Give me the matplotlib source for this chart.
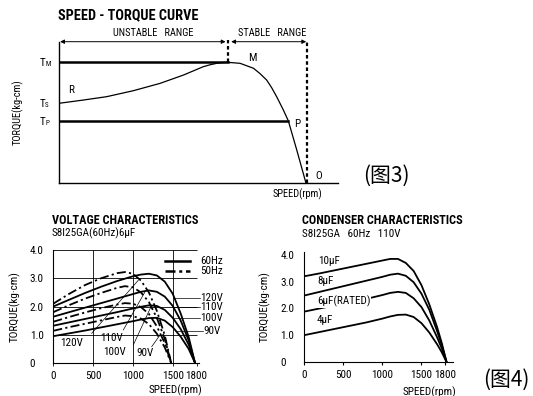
import matplotlib
matplotlib.use('Agg')
import matplotlib.pyplot as plt

plt.rcParams['font.family'] = ['Roboto Condensed', 'Liberation Sans', 'DejaVu Sans']

# ---- fig 3 : speed-torque schematic (relative units) ----
st_x = [0.0, 0.087, 0.171, 0.266, 0.362, 0.446, 0.517, 0.54, 0.565, 0.585, 0.605,
        0.649, 0.697, 0.72, 0.744, 0.762, 0.78, 0.804, 0.822, 0.852, 0.885]
st_y = [0.564, 0.587, 0.611, 0.653, 0.705, 0.764, 0.823, 0.836, 0.847, 0.852, 0.854,
        0.847, 0.812, 0.775, 0.729, 0.675, 0.611, 0.517, 0.439, 0.234, 0.0]
tm = 0.854
tp = 0.439
m_x = 0.605
p_x = 0.822
o_x = 0.89

# ---- fig 4 left : voltage characteristics ----
v60_rpm = [0, 200, 400, 600, 800, 1000, 1100, 1200, 1300, 1400, 1500, 1600, 1700, 1780]
v60_120 = [2.0, 2.24, 2.48, 2.7, 2.9, 3.07, 3.13, 3.16, 3.1, 2.88, 2.45, 1.75, 0.92, 0]
v60_110 = [1.64, 1.8, 1.96, 2.12, 2.28, 2.44, 2.52, 2.57, 2.52, 2.35, 2.02, 1.5, 0.8, 0]
v60_100 = [1.32, 1.44, 1.56, 1.68, 1.8, 1.93, 1.99, 2.04, 2.02, 1.88, 1.6, 1.2, 0.65, 0]
v60_90 = [0.95, 1.05, 1.15, 1.26, 1.37, 1.48, 1.54, 1.59, 1.6, 1.5, 1.27, 0.93, 0.5, 0]

v50_rpm = [0, 200, 400, 600, 800, 900, 1000, 1100, 1200, 1300, 1400, 1480]
v50_120 = [2.1, 2.45, 2.76, 3.0, 3.18, 3.22, 3.16, 2.92, 2.5, 1.85, 0.98, 0]
v50_110 = [1.8, 2.05, 2.28, 2.48, 2.66, 2.72, 2.68, 2.5, 2.16, 1.6, 0.85, 0]
v50_100 = [1.46, 1.63, 1.79, 1.94, 2.07, 2.12, 2.1, 1.98, 1.74, 1.3, 0.7, 0]
v50_90 = [1.14, 1.27, 1.39, 1.51, 1.63, 1.68, 1.66, 1.57, 1.38, 1.04, 0.55, 0]

volt_names = ['120V', '110V', '100V', '90V']
volt_label_y = [2.3, 1.98, 1.6, 1.15]
volt_lead_x = [1520, 1505, 1510, 1540]

# ---- fig 4 right : condenser characteristics ----
c_rpm = [0, 200, 400, 600, 800, 1000, 1100, 1200, 1300, 1400, 1500, 1600, 1700, 1760, 1820]
c_10 = [3.2, 3.31, 3.43, 3.55, 3.67, 3.79, 3.85, 3.85, 3.7, 3.4, 2.87, 2.15, 1.3, 0.7, 0]
c_8 = [2.48, 2.62, 2.76, 2.9, 3.04, 3.18, 3.26, 3.3, 3.22, 2.98, 2.55, 1.95, 1.15, 0.62, 0]
c_6 = [1.88, 2.0, 2.12, 2.24, 2.36, 2.5, 2.58, 2.62, 2.58, 2.38, 2.05, 1.55, 0.92, 0.5, 0]
c_4 = [1.0, 1.12, 1.24, 1.36, 1.48, 1.62, 1.7, 1.76, 1.77, 1.68, 1.45, 1.1, 0.66, 0.36, 0]
cap_names = ['10μF', '8μF', '6μF(RATED)', '4μF']
cap_label_x = [180, 165, 165, 165]
cap_label_y = [3.76, 3.04, 2.26, 1.56]

yticks = [0, 1, 2, 3, 4]
ytick_labels = ['0', '1.0', '2.0', '3.0', '4.0']
xticks = [0, 500, 1000, 1500, 1800]

fig = plt.figure(figsize=(5.33, 3.96), dpi=100)

# ================= top chart =================
ax1 = fig.add_axes([0.1107, 0.5379, 0.5235, 0.3568])
ax1.set_xlim(0, 1)
ax1.set_ylim(0, 1)
for s in ['top', 'right']:
    ax1.spines[s].set_visible(False)
ax1.spines['left'].set_linewidth(1.0)
ax1.spines['bottom'].set_linewidth(1.0)
ax1.set_xticks([])
ax1.set_yticks([])

ax1.plot(st_x, st_y, color='k', lw=0.9)
ax1.plot([0, m_x], [tm, tm], color='k', lw=1.8)
ax1.plot([0, p_x], [tp, tp], color='k', lw=1.8)
ax1.plot([m_x, m_x], [tm, 1.01], color='k', lw=1.6, ls=(0, (1.6, 1.2)), clip_on=False)
ax1.plot([o_x, o_x], [0, 1.01], color='k', lw=1.6, ls=(0, (1.6, 1.2)), clip_on=False)

arr = dict(arrowstyle='<|-|>', lw=0.7, color='k', shrinkA=0, shrinkB=0, mutation_scale=6)
ax1.annotate('', xy=(0.004, 1.0), xytext=(m_x - 0.008, 1.0), arrowprops=arr, annotation_clip=False)
ax1.annotate('', xy=(m_x + 0.012, 1.0), xytext=(o_x - 0.004, 1.0), arrowprops=arr, annotation_clip=False)
ax1.text(0.338, 1.06, 'UNSTABLE   RANGE', fontsize=7.5, ha='center', va='center')
ax1.text(0.765, 1.06, 'STABLE   RANGE', fontsize=7.5, ha='center', va='center')
ax1.text(-0.003, 1.19, 'SPEED - TORQUE CURVE', fontsize=10.3, fontweight='bold', ha='left', va='center')

for lab, sub, yy in [('T', 'M', 0.828), ('T', 'S', 0.536), ('T', 'P', 0.41)]:
    ax1.text(-0.05, yy, lab, fontsize=8, ha='right', va='baseline')
    ax1.text(-0.05, yy, sub, fontsize=5, ha='left', va='baseline')
ax1.text(0.043, 0.655, 'R', fontsize=8, ha='center', va='center')
ax1.text(0.692, 0.888, 'M', fontsize=8, ha='center', va='center')
ax1.text(0.852, 0.414, 'P', fontsize=8, ha='center', va='center')
ax1.text(0.929, 0.051, 'O', fontsize=8, ha='center', va='center')
ax1.text(0.853, -0.078, 'SPEED(rpm)', fontsize=7.5, ha='center', va='center')
ax1.text(-0.147, 0.5, 'TORQUE(kg-cm)', fontsize=7.5, rotation=90, ha='center', va='center')
ax1.text(1.175, 0.05, '(图3)', fontsize=15, ha='center', va='center',
         family=['Noto Sans CJK SC', 'DejaVu Sans'])

# ================= voltage chart =================
ax2 = fig.add_axes([0.1, 0.0833, 0.2734, 0.2854])
ax2.set_xlim(0, 1830)
ax2.set_ylim(0, 4)
for s in ['top', 'right']:
    ax2.spines[s].set_visible(False)
ax2.hlines([1, 2, 3, 4], 0, 1800, color='k', lw=0.6)
ax2.vlines([500, 1000, 1500], 0, 4, color='k', lw=0.6)

ax2.set_xticks(xticks)
ax2.set_yticks(yticks)
ax2.set_yticklabels(ytick_labels)
ax2.tick_params(axis='x', length=2.5, width=0.6, pad=3, labelsize=8)
ax2.tick_params(axis='y', length=0, pad=17, labelsize=8)
for t in ax2.get_yticklabels():
    t.set_horizontalalignment('left')

dashdot = (0, (5, 1.8, 1.2, 1.8))
for ys in [v60_120, v60_110, v60_100, v60_90]:
    ax2.plot(v60_rpm, ys, color='k', lw=1.3)
for ys in [v50_120, v50_110, v50_100, v50_90]:
    ax2.plot(v50_rpm, ys, color='k', lw=1.3, ls=dashdot)

# legend
ax2.plot([1403, 1717], [3.6, 3.6], color='k', lw=1.8)
ax2.plot([1403, 1717], [3.24, 3.24], color='k', lw=1.8, ls=(0, (4, 1.5, 1.2, 1.5)))
ax2.text(1850, 3.6, '60Hz', fontsize=8, ha='left', va='center')
ax2.text(1850, 3.24, '50Hz', fontsize=8, ha='left', va='center')

# right side voltage labels
for name, yy, x0 in zip(volt_names, volt_label_y, volt_lead_x):
    xe = 1880 if name == '90V' else 1845
    ax2.plot([x0, xe], [yy, yy], color='k', lw=0.5, clip_on=False)
    ax2.text(xe + 5, yy, name, fontsize=8, ha='left', va='center')

# bottom labels with slanted leaders
ax2.text(231, 0.71, '120V', fontsize=8, ha='center', va='center')
ax2.text(733, 0.9, '110V', fontsize=8, ha='center', va='center')
ax2.text(775, 0.38, '100V', fontsize=8, ha='center', va='center')
ax2.text(1152, 0.34, '90V', fontsize=8, ha='center', va='center')
ax2.plot([482, 1068], [1.05, 2.93], color='k', lw=0.5)
ax2.plot([879, 1152], [1.17, 2.52], color='k', lw=0.5)
ax2.plot([1005, 1236], [0.64, 2.05], color='k', lw=0.5)
ax2.plot([1236, 1340], [0.58, 0.99], color='k', lw=0.5)

ax2.text(-0.009, 1.265, 'VOLTAGE CHARACTERISTICS', transform=ax2.transAxes,
         fontsize=8.8, fontweight='bold', ha='left', va='center')
ax2.text(-0.009, 1.148, 'S8I25GA(60Hz)6μF', transform=ax2.transAxes,
         fontsize=8, ha='left', va='center')
ax2.text(1.02, -0.239, 'SPEED(rpm)', transform=ax2.transAxes, fontsize=8, ha='right', va='center')
ax2.text(-0.26, 0.5, 'TORQUE(kg·cm)', transform=ax2.transAxes, fontsize=8,
         rotation=90, ha='center', va='center')

# ================= condenser chart =================
ax3 = fig.add_axes([0.5704, 0.0859, 0.2791, 0.2785])
ax3.set_xlim(0, 1900)
ax3.set_ylim(0, 4.12)
for s in ['top', 'right']:
    ax3.spines[s].set_visible(False)
ax3.set_xticks(xticks)
ax3.set_yticks(yticks)
ax3.set_yticklabels(ytick_labels)
ax3.tick_params(axis='x', length=2.5, width=0.8, pad=3, labelsize=8)
ax3.tick_params(axis='y', length=0, pad=17, labelsize=8)
for t in ax3.get_yticklabels():
    t.set_horizontalalignment('left')

for ys in [c_10, c_8, c_6, c_4]:
    ax3.plot(c_rpm, ys, color='k', lw=1.3)
for name, xx, yy in zip(cap_names, cap_label_x, cap_label_y):
    ax3.text(xx, yy, name, fontsize=8, ha='left', va='center',
             bbox=dict(facecolor='white', edgecolor='none', pad=0.5))

ax3.text(-0.015, 1.287, 'CONDENSER CHARACTERISTICS', transform=ax3.transAxes,
         fontsize=8.8, fontweight='bold', ha='left', va='center')
ax3.text(-0.015, 1.16, 'S8I25GA   60Hz   110V', transform=ax3.transAxes,
         fontsize=8, ha='left', va='center')
ax3.text(1.026, -0.27, 'SPEED(rpm)', transform=ax3.transAxes, fontsize=8, ha='right', va='center')
ax3.text(-0.26, 0.5, 'TORQUE(kg·cm)', transform=ax3.transAxes, fontsize=8,
         rotation=90, ha='center', va='center')
ax3.text(1.36, -0.16, '(图4)', transform=ax3.transAxes, fontsize=15, ha='center', va='center',
         family=['Noto Sans CJK SC', 'DejaVu Sans'])

fig.savefig('out.png', dpi=100)
